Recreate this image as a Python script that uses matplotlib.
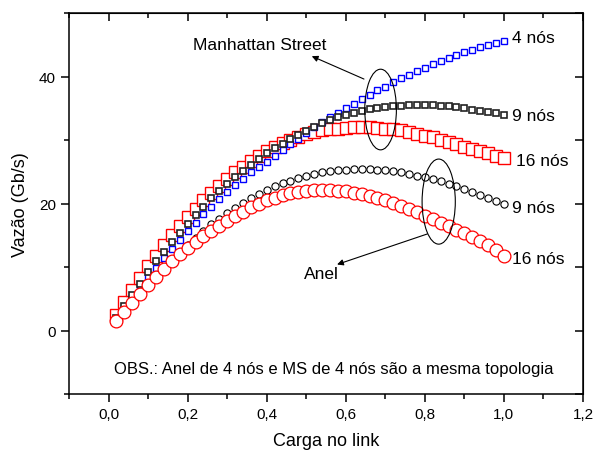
import matplotlib
matplotlib.use('Agg')
import matplotlib.pyplot as plt
from matplotlib.patches import Ellipse
from matplotlib.ticker import MultipleLocator, FuncFormatter, NullFormatter

plt.rcParams['font.family'] = ['Liberation Sans', 'DejaVu Sans']

# carga no link (0,02 ... 1,00)
carga = [round(0.02 * i, 2) for i in range(1, 51)]

ms_4 = [1.8, 3.5, 5.2, 6.8, 8.4, 9.9, 11.4, 12.9, 14.3, 15.7,
        17.0, 18.3, 19.5, 20.7, 21.8, 22.9, 23.9, 24.9, 25.8, 26.6,
        27.5, 28.4, 29.3, 30.2, 31.1, 32.0, 32.8, 33.6, 34.3, 35.0,
        35.7, 36.4, 37.1, 37.8, 38.4, 39.1, 39.7, 40.3, 40.9, 41.4,
        41.9, 42.4, 42.9, 43.4, 43.8, 44.2, 44.6, 45.0, 45.3, 45.6]

ms_9 = [2.0, 3.9, 5.6, 7.4, 9.2, 10.9, 12.4, 14.0, 15.4, 16.8,
        18.2, 19.5, 20.8, 22.0, 23.0, 24.1, 25.1, 26.1, 27.0, 27.9,
        28.7, 29.4, 30.1, 30.8, 31.4, 32.1, 32.6, 33.2, 33.6, 34.0,
        34.3, 34.6, 34.9, 35.1, 35.2, 35.3, 35.4, 35.5, 35.5, 35.5,
        35.5, 35.4, 35.3, 35.2, 35.0, 34.8, 34.6, 34.4, 34.2, 33.9]

ms_16 = [2.5, 4.5, 6.4, 8.3, 10.1, 11.8, 13.4, 15.0, 16.5, 17.9,
         19.2, 20.5, 21.7, 22.8, 23.9, 24.9, 25.8, 26.7, 27.5, 28.2,
         28.9, 29.5, 30.0, 30.5, 30.9, 31.2, 31.5, 31.7, 31.8, 31.9,
         32.0, 32.0, 32.0, 31.9, 31.8, 31.7, 31.5, 31.3, 31.0, 30.7,
         30.4, 30.0, 29.7, 29.3, 28.9, 28.6, 28.2, 27.9, 27.5, 27.2]

anel_9 = [1.6, 3.1, 4.6, 6.0, 7.4, 8.7, 10.0, 11.2, 12.4, 13.5,
          14.6, 15.7, 16.7, 17.6, 18.5, 19.3, 20.1, 20.8, 21.5, 22.1,
          22.7, 23.2, 23.6, 24.0, 24.3, 24.6, 24.9, 25.1, 25.2, 25.3,
          25.4, 25.4, 25.4, 25.3, 25.2, 25.1, 24.9, 24.7, 24.4, 24.1,
          23.8, 23.5, 23.1, 22.7, 22.3, 21.8, 21.3, 20.9, 20.4, 19.9]

anel_16 = [1.5, 2.9, 4.4, 5.8, 7.2, 8.5, 9.7, 10.9, 12.0, 13.0,
           14.0, 14.9, 15.7, 16.5, 17.3, 18.0, 18.7, 19.4, 20.0, 20.5,
           20.9, 21.3, 21.6, 21.8, 22.0, 22.1, 22.1, 22.1, 22.0, 21.9,
           21.7, 21.5, 21.2, 20.9, 20.5, 20.1, 19.6, 19.1, 18.6, 18.1,
           17.6, 17.0, 16.5, 15.9, 15.3, 14.7, 14.1, 13.4, 12.6, 11.8]


def comma(v, pos):
    return f'{v:.1f}'.replace('.', ',')


fig, ax = plt.subplots(figsize=(5.94, 4.52), dpi=100)
fig.subplots_adjust(left=0.1162, right=0.9815, bottom=0.1261, top=0.969)

ax.plot(carga, ms_16, 's', ms=8.5, mfc='white', mec='red', mew=1.0, zorder=2)
ax.plot(carga, ms_4, 's', ms=4.8, mfc='white', mec='blue', mew=1.0, zorder=3)
ax.plot(carga, ms_9, 's', ms=4.8, mfc='white', mec='#222222', mew=1.2, zorder=4)
ax.plot(carga, anel_9, 'o', ms=5.2, mfc='white', mec='black', mew=0.8, zorder=5)
ax.plot(carga, anel_16, 'o', ms=9.2, mfc='white', mec='red', mew=0.9, zorder=6)

ax.set_xlim(-0.1, 1.2)
ax.set_ylim(-10, 50)
ax.xaxis.set_major_locator(MultipleLocator(0.2))
ax.xaxis.set_minor_locator(MultipleLocator(0.1))
ax.yaxis.set_major_locator(MultipleLocator(20))
ax.yaxis.set_minor_locator(MultipleLocator(10))
ax.xaxis.set_major_formatter(FuncFormatter(comma))
ax.tick_params(which='both', direction='out', width=1.1, labelsize=11)
ax.tick_params(which='major', length=6)
ax.tick_params(which='minor', length=3.5)
for s in ax.spines.values():
    s.set_linewidth(1.1)

top = ax.secondary_xaxis('top')
top.xaxis.set_major_locator(MultipleLocator(0.2))
top.xaxis.set_minor_locator(MultipleLocator(0.1))
top.xaxis.set_major_formatter(NullFormatter())
top.tick_params(which='both', direction='in', width=1.1)
top.tick_params(which='major', length=6)
top.tick_params(which='minor', length=3.5)
right = ax.secondary_yaxis('right')
right.yaxis.set_major_locator(MultipleLocator(20))
right.yaxis.set_minor_locator(MultipleLocator(10))
right.yaxis.set_major_formatter(NullFormatter())
right.tick_params(which='both', direction='in', width=1.1, length=6)

ax.set_xlabel('Carga no link', fontsize=13, labelpad=8)
ax.set_ylabel('Vazão (Gb/s)', fontsize=13, labelpad=7)

ax.add_patch(Ellipse((0.688, 34.8), 0.08, 12.7, fill=False, lw=0.8, zorder=7))
ax.add_patch(Ellipse((0.835, 20.3), 0.084, 13.4, fill=False, lw=0.8, zorder=7))

arrow = dict(arrowstyle='-|>', lw=0.8, color='black', mutation_scale=9, shrinkA=0, shrinkB=0)
ax.annotate('', xy=(0.514, 43.2), xytext=(0.646, 39.6), arrowprops=arrow)
ax.annotate('', xy=(0.578, 10.4), xytext=(0.806, 15.2), arrowprops=arrow)

ax.text(0.213, 45.0, 'Manhattan Street', fontsize=12.5, va='center')
ax.text(0.495, 8.9, 'Anel', fontsize=12.5, va='center')
ax.text(1.02, 46.2, '4 nós', fontsize=12.5, va='center')
ax.text(1.02, 33.9, '9 nós', fontsize=12.5, va='center')
ax.text(1.03, 26.7, '16 nós', fontsize=12.5, va='center')
ax.text(1.02, 19.4, '9 nós', fontsize=12.5, va='center')
ax.text(1.02, 11.4, '16 nós', fontsize=12.5, va='center')
ax.text(0.015, -6.0, 'OBS.: Anel de 4 nós e MS de 4 nós são a mesma topologia',
        fontsize=12, va='center')

plt.savefig('out.png')
